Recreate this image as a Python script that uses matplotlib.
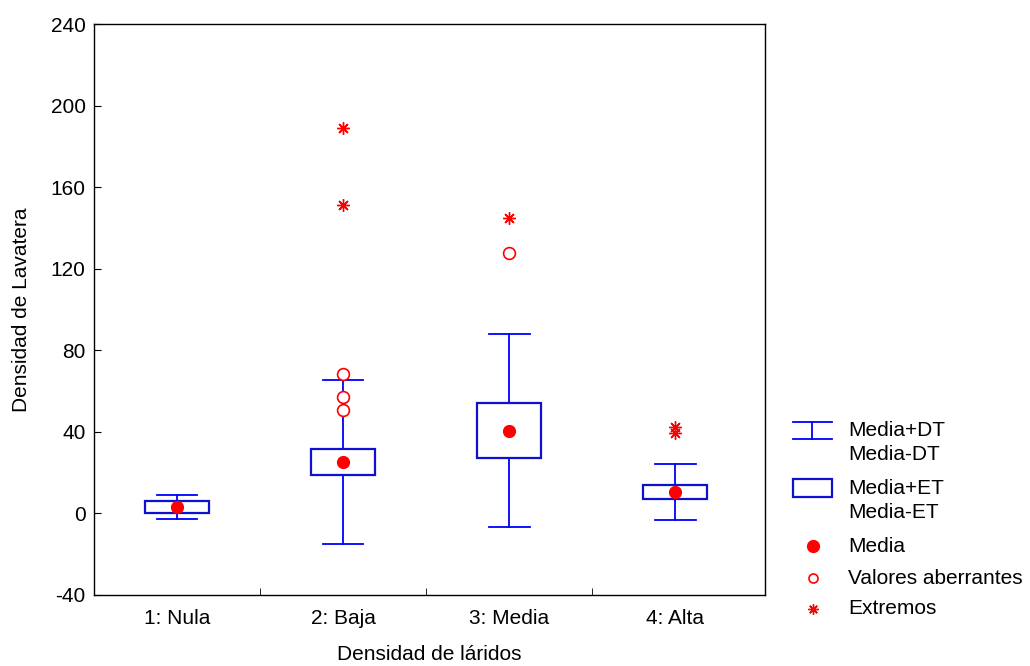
import matplotlib
matplotlib.use('Agg')
import matplotlib.pyplot as plt
from matplotlib.patches import Rectangle

plt.rcParams['font.family'] = ['Liberation Sans', 'DejaVu Sans']
plt.rcParams['axes.unicode_minus'] = False

groups = ['1: Nula', '2: Baja', '3: Media', '4: Alta']
means = [3.3, 25.0, 40.5, 10.4]
sd = [5.9, 40.2, 47.3, 13.7]
se = [2.9, 6.4, 13.5, 3.4]
outliers = [[], [68.6, 56.9, 50.5], [127.9], []]
extremes = [[], [189.2, 151.0], [145.0], [42.5, 39.5]]

blue = '#0000ff'
red = '#ff0000'
star = (8, 2, 0)
fs = 15

fig = plt.figure(figsize=(10.3, 6.66), dpi=100)
ax = fig.add_axes([94 / 1030, 1 - 595 / 666, 671 / 1030, 571 / 666])

box_w = 0.385
cap_w = 0.245
for i, m in enumerate(means):
    x = i + 1
    # whiskers: mean +/- SD
    ax.plot([x, x], [m - sd[i], m + sd[i]], color=blue, lw=1.3, zorder=1)
    ax.plot([x - cap_w / 2, x + cap_w / 2], [m + sd[i]] * 2, color=blue, lw=1.3)
    ax.plot([x - cap_w / 2, x + cap_w / 2], [m - sd[i]] * 2, color=blue, lw=1.3)
    # box: mean +/- SE
    ax.add_patch(Rectangle((x - box_w / 2, m - se[i]), box_w, 2 * se[i],
                           facecolor='white', edgecolor='#1010d0', lw=1.6, zorder=2))
    ax.plot(x, m, 'o', color=red, ms=8.5, zorder=3)
    if outliers[i]:
        ax.plot([x] * len(outliers[i]), outliers[i], 'o', mfc='white', mec=red,
                mew=1.2, ms=8.5, zorder=3)
    if extremes[i]:
        ax.plot([x] * len(extremes[i]), extremes[i], marker=star, ls='none',
                color=red, mew=1.0, ms=9, zorder=3)

ax.set_xlim(0.5, 4.54)
ax.set_ylim(-40, 240)
ax.set_yticks(range(-40, 241, 40))
ax.set_xticks([1, 2, 3, 4])
ax.set_xticklabels(groups)
ax.set_xticks([1.5, 2.5, 3.5], minor=True)
ax.tick_params(axis='x', which='major', length=0, pad=10, labelsize=fs)
ax.tick_params(axis='x', which='minor', direction='in', length=5)
ax.tick_params(axis='y', direction='in', length=5, labelsize=fs, pad=6)
for s in ax.spines.values():
    s.set_linewidth(1.0)
ax.set_xlabel('Densidad de láridos', fontsize=fs, labelpad=12)
ax.set_ylabel('Densidad de Lavatera', fontsize=fs, labelpad=14)

# legend drawn in pixel coordinates
lg = fig.add_axes([0, 0, 1, 1], facecolor='none')
lg.set_xlim(0, 1030)
lg.set_ylim(666, 0)
lg.axis('off')
lg.plot([793, 832], [422, 422], color=blue, lw=1.3)
lg.plot([793, 832], [439, 439], color=blue, lw=1.3)
lg.plot([812, 812], [422, 439], color=blue, lw=1.3)
lg.add_patch(Rectangle((793, 479), 39, 18, facecolor='white', edgecolor='#1010d0', lw=1.6))
lg.plot(813, 546, 'o', color=red, ms=8.5)
lg.plot(813, 578, 'o', mfc='white', mec=red, mew=1.2, ms=6.5)
lg.plot(813, 609, marker=star, ls='none', color=red, mew=1.0, ms=7.5)
labels = [('Media+DT', 431), ('Media-DT', 455), ('Media+ET', 488), ('Media-ET', 513),
          ('Media', 546), ('Valores aberrantes', 578), ('Extremos', 609)]
for txt, y in labels:
    lg.text(848, y, txt, fontsize=fs, va='center', ha='left')

fig.savefig('out.png', dpi=100)
